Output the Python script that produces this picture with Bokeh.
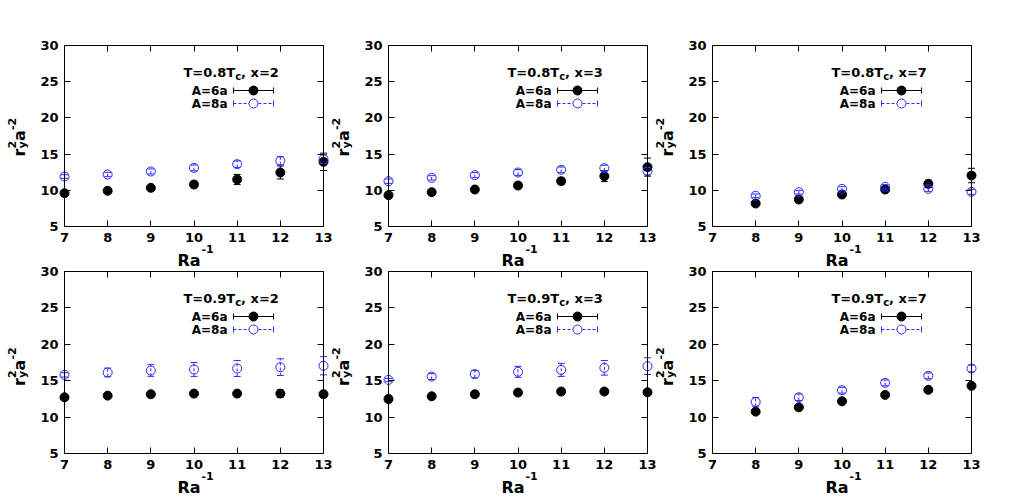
import math
from bokeh.plotting import figure
from bokeh.models import Range1d, FixedTicker, LinearAxis, Label
from bokeh.embed import file_html
from bokeh.resources import INLINE

# ---------------- data ----------------
ra_inv = [7, 8, 9, 10, 11, 12, 13]
ra_inv_x7 = [8, 9, 10, 11, 12, 13]
x_ticks = [7, 8, 9, 10, 11, 12, 13]
y_ticks = [5, 10, 15, 20, 25, 30]

# T=0.8Tc, x=2
t08_x2_a6 = [9.6, 9.93, 10.34, 10.8, 11.49, 12.46, 13.93]
t08_x2_a6_err = [0.2, 0.2, 0.25, 0.3, 0.7, 0.9, 1.2]
t08_x2_a8 = [11.9, 12.18, 12.6, 13.1, 13.61, 14.07, 14.3]
t08_x2_a8_err = [0.25, 0.3, 0.35, 0.4, 0.45, 0.55, 0.6]

# T=0.8Tc, x=3
t08_x3_a6 = [9.33, 9.74, 10.11, 10.66, 11.26, 11.95, 13.2]
t08_x3_a6_err = [0.2, 0.2, 0.25, 0.3, 0.45, 0.75, 1.25]
t08_x3_a8 = [11.26, 11.72, 12.09, 12.46, 12.83, 13.06, 12.64]
t08_x3_a8_err = [0.3, 0.3, 0.35, 0.4, 0.4, 0.4, 0.5]

# T=0.8Tc, x=7
t08_x7_a6 = [8.18, 8.73, 9.42, 10.11, 10.89, 12.04]
t08_x7_a6_err = [0.2, 0.2, 0.25, 0.35, 0.5, 1.0]
t08_x7_a8 = [9.24, 9.74, 10.2, 10.48, 10.2, 9.79]
t08_x7_a8_err = [0.25, 0.25, 0.3, 0.3, 0.35, 0.35]

# T=0.9Tc, x=2
t09_x2_a6 = [12.72, 12.95, 13.14, 13.23, 13.23, 13.23, 13.14]
t09_x2_a6_err = [0.15, 0.15, 0.2, 0.2, 0.25, 0.5, 0.4]
t09_x2_a8 = [15.8, 16.13, 16.4, 16.54, 16.68, 16.86, 17.05]
t09_x2_a8_err = [0.3, 0.6, 0.8, 0.95, 1.1, 1.15, 1.25]

# T=0.9Tc, x=3
t09_x3_a6 = [12.49, 12.86, 13.14, 13.37, 13.51, 13.51, 13.41]
t09_x3_a6_err = [0.15, 0.15, 0.2, 0.2, 0.25, 0.3, 0.3]
t09_x3_a8 = [15.11, 15.57, 15.9, 16.22, 16.49, 16.77, 17.0]
t09_x3_a8_err = [0.2, 0.4, 0.5, 0.75, 0.9, 1.0, 1.15]

# T=0.9Tc, x=7
t09_x7_a6 = [10.75, 11.34, 12.17, 13.05, 13.74, 14.29]
t09_x7_a6_err = [0.2, 0.2, 0.2, 0.2, 0.25, 0.3]
t09_x7_a8 = [12.08, 12.72, 13.69, 14.7, 15.67, 16.68]
t09_x7_a8_err = [0.6, 0.45, 0.4, 0.4, 0.4, 0.45]

# ---------------- style / layout ----------------
FONT = "DejaVu Sans"
BLACK = "#000000"
BLUE = "#2a2aff"
X0, X1 = 7, 13
Y0, Y1 = 5, 30
W, H = 1000, 496                 # canvas size, px
BOX_W = 259                      # axes box width, px
COL_L = [64, 388, 712]           # box left edges
ROW_T = [45, 271]                # box top edges
ROW_BH = [181, 182]              # box heights
ROW_YLAB = [0, 3]                # extra downward shift of the y label per row

p = figure(width=W, height=H, x_range=Range1d(0, W), y_range=Range1d(0, H),
           x_axis_type=None, y_axis_type=None, output_backend="svg",
           toolbar_location=None, min_border=0)
p.grid.visible = False
p.outline_line_color = None
p.background_fill_color = "white"
p.border_fill_color = "white"


def labp(px, py, text, size, align="left", angle=0.0):
    """label centred vertically on canvas pixel (px, py) measured from the top-left"""
    p.add_layout(Label(x=px, y=H - py, text=text,
                       text_font=FONT, text_font_style="bold",
                       text_font_size=size, text_color=BLACK,
                       text_align=align, text_baseline="middle", angle=angle))


def make_axis(xn, yn, ticks, loc, bounds, labels=True):
    ax = LinearAxis(x_range_name=xn, y_range_name=yn, fixed_location=loc, bounds=bounds)
    ax.ticker = FixedTicker(ticks=ticks)
    ax.minor_tick_line_color = None
    ax.major_tick_in = 6
    ax.major_tick_out = 0
    ax.major_tick_line_color = BLACK
    ax.axis_line_color = BLACK
    ax.axis_line_width = 1
    if labels:
        ax.major_label_text_font = FONT
        ax.major_label_text_font_style = "bold"
        ax.major_label_text_font_size = "13px"
        ax.major_label_text_color = BLACK
        ax.major_label_standoff = 6
    else:
        ax.major_label_text_color = None
        ax.major_label_text_font_size = "1px"
        ax.major_label_standoff = 0
    return ax


def errorbars(xs, ys, es, color, dash, xn, yn):
    lo = [v - e for v, e in zip(ys, es)]
    hi = [v + e for v, e in zip(ys, es)]
    p.segment(x0=xs, y0=lo, x1=xs, y1=hi, line_color=color, line_width=1, line_dash=dash,
              x_range_name=xn, y_range_name=yn)
    p.scatter(x=list(xs) + list(xs), y=lo + hi, marker="dash", size=7,
              line_color=color, line_width=1, x_range_name=xn, y_range_name=yn)


def make_panel(k, temp, xval, xs6, a6, e6, xs8, a8, e8, col, rw):
    L, T, fh = COL_L[col], ROW_T[rw], ROW_BH[rw]
    sx = (X1 - X0) / BOX_W
    sy = (Y1 - Y0) / fh
    xn, yn = "x%d" % k, "y%d" % k
    p.extra_x_ranges[xn] = Range1d(X0 - L * sx, X0 + (W - L) * sx)
    p.extra_y_ranges[yn] = Range1d(Y1 - (H - T) * sy, Y1 + T * sy)

    p.add_layout(make_axis(xn, yn, x_ticks, Y0, (X0, X1)), "below")
    p.add_layout(make_axis(xn, yn, y_ticks, X0, (Y0, Y1)), "left")
    p.add_layout(make_axis(xn, yn, x_ticks, Y1, (X0, X1), labels=False), "above")
    p.add_layout(make_axis(xn, yn, y_ticks, X1, (Y0, Y1), labels=False), "right")

    # data
    errorbars(xs6, a6, e6, BLACK, "solid", xn, yn)
    p.scatter(xs6, a6, marker="circle", size=9, fill_color=BLACK, line_color=BLACK,
              x_range_name=xn, y_range_name=yn)
    errorbars(xs8, a8, e8, BLUE, "3 2", xn, yn)
    p.scatter(xs8, a8, marker="circle", size=9, fill_color=None, line_color=BLUE,
              line_width=1, x_range_name=xn, y_range_name=yn)

    # key (canvas pixels)
    r1, r2 = H - (T + 45), H - (T + 58)
    xa, xb, xm = L + 169, L + 209, L + 189
    p.segment(x0=[xa], y0=[r1], x1=[xb], y1=[r1], line_color=BLACK, line_width=1)
    p.scatter(x=[xa, xb], y=[r1, r1], marker="dash", size=6, angle=math.pi / 2,
              line_color=BLACK)
    p.scatter(x=[xm], y=[r1], marker="circle", size=9, fill_color=BLACK, line_color=BLACK)
    p.segment(x0=[xa], y0=[r2], x1=[xb], y1=[r2], line_color=BLUE, line_width=1,
              line_dash="3 2")
    p.scatter(x=[xa, xb], y=[r2, r2], marker="dash", size=6, angle=math.pi / 2,
              line_color=BLUE)
    p.scatter(x=[xm], y=[r2], marker="circle", size=9, fill_color="white", line_color=BLUE)
    labp(L + 163, T + 45, "A=6a", "12px", align="right")
    labp(L + 163, T + 58, "A=8a", "12px", align="right")
    # key title  T=..T_c, x=..
    labp(L + 119, T + 26.5, "T=" + temp + "T", "13px")
    labp(L + 170.7, T + 30.5, "c", "10px")
    labp(L + 176.6, T + 26.5, ", x=" + xval, "13px")

    # x label  Ra^-1
    B = T + fh
    labp(L + 113, B + 33.5, "Ra", "16px")
    labp(L + 137, B + 22.2, "-1", "11px")

    # y label  r_y^2 a^-2 (rotated)
    yc = T + fh / 2 + ROW_YLAB[rw]
    a = math.pi / 2
    labp(L - 45.5, yc + 20.5, "r", "16px", angle=a)
    labp(L - 42.3, yc + 12.5, "y", "11px", angle=a)
    labp(L - 52.3, yc + 12.5, "2", "11px", angle=a)
    labp(L - 45.5, yc + 4.9, "a", "16px", angle=a)
    labp(L - 52.3, yc - 5.9, "-2", "11px", angle=a)


make_panel(1, "0.8", "2", ra_inv, t08_x2_a6, t08_x2_a6_err, ra_inv, t08_x2_a8, t08_x2_a8_err, 0, 0)
make_panel(2, "0.8", "3", ra_inv, t08_x3_a6, t08_x3_a6_err, ra_inv, t08_x3_a8, t08_x3_a8_err, 1, 0)
make_panel(3, "0.8", "7", ra_inv_x7, t08_x7_a6, t08_x7_a6_err, ra_inv_x7, t08_x7_a8, t08_x7_a8_err, 2, 0)
make_panel(4, "0.9", "2", ra_inv, t09_x2_a6, t09_x2_a6_err, ra_inv, t09_x2_a8, t09_x2_a8_err, 0, 1)
make_panel(5, "0.9", "3", ra_inv, t09_x3_a6, t09_x3_a6_err, ra_inv, t09_x3_a8, t09_x3_a8_err, 1, 1)
make_panel(6, "0.9", "7", ra_inv_x7, t09_x7_a6, t09_x7_a6_err, ra_inv_x7, t09_x7_a8, t09_x7_a8_err, 2, 1)

open("out.html", "w").write(file_html(p, INLINE, title="r_y^2 vs Ra^-1"))
